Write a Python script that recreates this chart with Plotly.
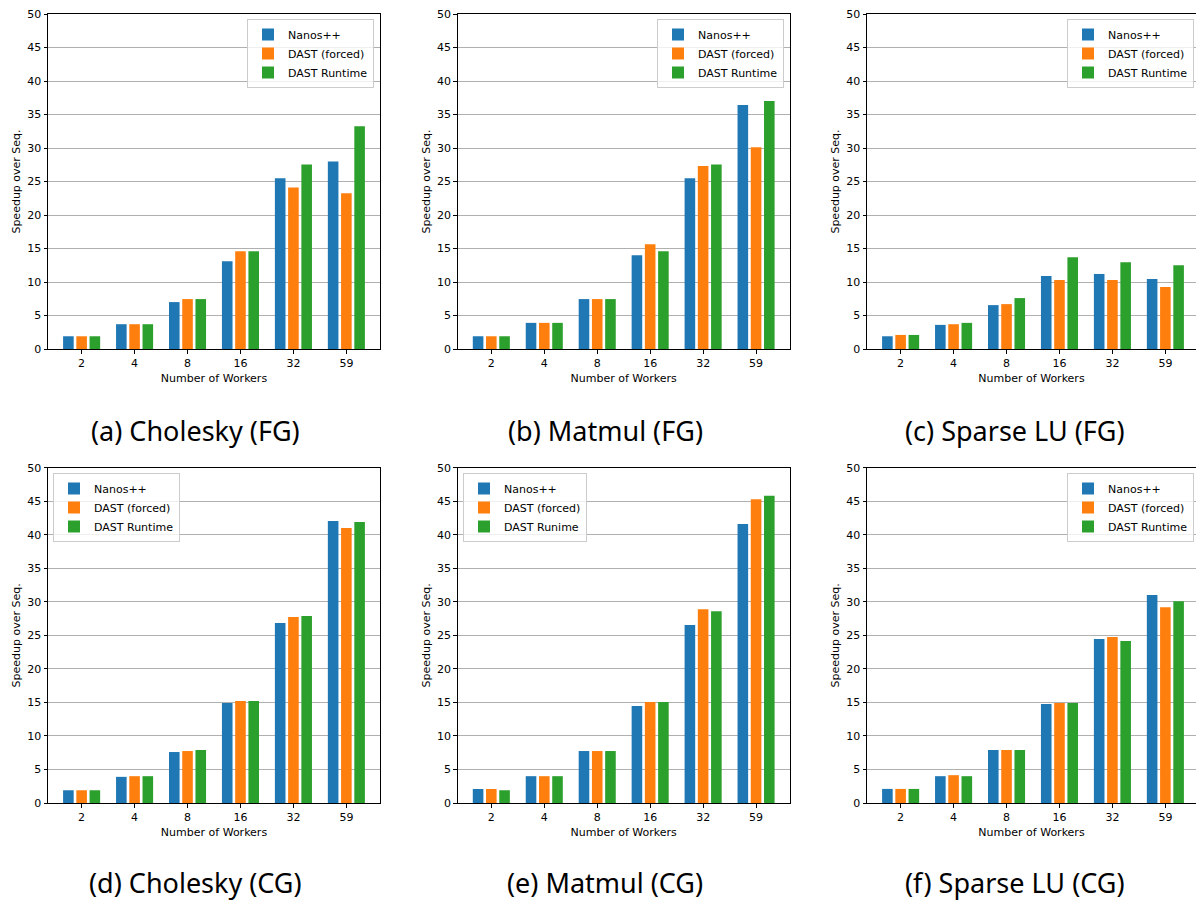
import plotly.graph_objects as go

# Worker counts on the x axis
workers = ["2", "4", "8", "16", "32", "59"]
series_names = ["Nanos++", "DAST (forced)", "DAST Runtime"]
series_names_e = ["Nanos++", "DAST (forced)", "DAST Runime"]
colors = ["#1f77b4", "#ff7f0e", "#2ca02c"]

# (a) Cholesky (FG)
chol_fg_nanos = [1.9, 3.7, 7.0, 13.1, 25.5, 28.0]
chol_fg_forced = [1.9, 3.7, 7.45, 14.6, 24.1, 23.25]
chol_fg_runtime = [1.9, 3.7, 7.45, 14.6, 27.55, 33.25]

# (b) Matmul (FG)
matmul_fg_nanos = [1.9, 3.9, 7.45, 14.0, 25.5, 36.4]
matmul_fg_forced = [1.9, 3.9, 7.45, 15.65, 27.3, 30.1]
matmul_fg_runtime = [1.9, 3.9, 7.45, 14.6, 27.55, 37.0]

# (c) Sparse LU (FG)
slu_fg_nanos = [1.9, 3.6, 6.55, 10.9, 11.2, 10.45]
slu_fg_forced = [2.1, 3.7, 6.7, 10.3, 10.3, 9.25]
slu_fg_runtime = [2.1, 3.9, 7.6, 13.7, 12.95, 12.5]

# (d) Cholesky (CG)
chol_cg_nanos = [1.9, 3.9, 7.6, 14.9, 26.85, 42.05]
chol_cg_forced = [1.9, 4.0, 7.75, 15.2, 27.75, 41.0]
chol_cg_runtime = [1.9, 4.0, 7.9, 15.2, 27.9, 41.9]

# (e) Matmul (CG)
matmul_cg_nanos = [2.1, 4.0, 7.75, 14.45, 26.55, 41.6]
matmul_cg_forced = [2.1, 4.0, 7.75, 15.05, 28.9, 45.3]
matmul_cg_runtime = [1.9, 4.0, 7.75, 15.05, 28.6, 45.8]

# (f) Sparse LU (CG)
slu_cg_nanos = [2.1, 4.0, 7.9, 14.75, 24.45, 31.0]
slu_cg_forced = [2.1, 4.15, 7.9, 14.9, 24.75, 29.2]
slu_cg_runtime = [2.1, 4.0, 7.9, 14.9, 24.15, 30.1]

captions = [
    "(a) Cholesky (FG)", "(b) Matmul (FG)", "(c) Sparse LU (FG)",
    "(d) Cholesky (CG)", "(e) Matmul (CG)", "(f) Sparse LU (CG)",
]

panels = [
    (chol_fg_nanos, chol_fg_forced, chol_fg_runtime),
    (matmul_fg_nanos, matmul_fg_forced, matmul_fg_runtime),
    (slu_fg_nanos, slu_fg_forced, slu_fg_runtime),
    (chol_cg_nanos, chol_cg_forced, chol_cg_runtime),
    (matmul_cg_nanos, matmul_cg_forced, matmul_cg_runtime),
    (slu_cg_nanos, slu_cg_forced, slu_cg_runtime),
]
legend_labels = [series_names, series_names, series_names,
                 series_names, series_names_e, series_names]

W, H = 1196, 900
# pixel boxes of each plot area: (left, right, top, bottom)
col_px = [(48, 380), (457.7, 789.7), (867, 1196)]
row_px = [(14, 349), (467.7, 803)]
# legend anchors in pixels: (x, y, xanchor)
legend_px = [
    (374, 19, "right"), (784, 19, "right"), (1194, 19, "right"),
    (53, 473, "left"), (463, 473, "left"), (1194, 473, "right"),
]
caption_px = [(195, 430), (605, 430), (1015, 430),
              (195, 882), (605, 882), (1015, 882)]

base_font = "DejaVu Sans"
fig = go.Figure()
layout = dict(
    width=W, height=H,
    margin=dict(l=0, r=0, t=0, b=0),
    paper_bgcolor="white", plot_bgcolor="white",
    barmode="group", bargap=0.25, bargroupgap=0.2,
    font=dict(family=base_font, size=11, color="black"),
    annotations=[],
)

for p in range(6):
    r, c = divmod(p, 3)
    sfx = "" if p == 0 else str(p + 1)
    xa, ya = "x" + sfx, "y" + sfx
    leg = "legend" + sfx
    for s in range(3):
        fig.add_trace(go.Bar(
            x=workers, y=panels[p][s], name=legend_labels[p][s],
            marker=dict(color=colors[s], line=dict(width=0)),
            xaxis=xa, yaxis=ya, legend=leg, showlegend=True,
        ))
    l, rt = col_px[c]
    t, b = row_px[r]
    xmax = 5.635 if c < 2 else -0.635 + 6.27 * (rt - l) / 332.0
    layout["xaxis" + sfx] = dict(
        domain=[l / W, rt / W], anchor=ya, type="category",
        range=[-0.635, xmax], showgrid=False, zeroline=False,
        showline=True, linecolor="black", linewidth=1, mirror=True,
        ticks="outside", ticklen=3.5, tickwidth=1, tickcolor="black",
        tickfont=dict(size=11), automargin=False,
        title=dict(text="Number of Workers", font=dict(size=11), standoff=5),
    )
    layout["yaxis" + sfx] = dict(
        domain=[1 - b / H, 1 - t / H], anchor=xa,
        range=[0, 50], tickvals=list(range(0, 55, 5)),
        showgrid=True, gridcolor="#b0b0b0", gridwidth=1, zeroline=False,
        showline=True, linecolor="black", linewidth=1, mirror=True,
        ticks="outside", ticklen=3.5, tickwidth=1, tickcolor="black",
        tickfont=dict(size=11), automargin=False,
        title=dict(text="Speedup over Seq.", font=dict(size=11), standoff=4),
    )
    lx, ly, anc = legend_px[p]
    layout[leg] = dict(
        x=lx / W, y=1 - ly / H, xanchor=anc, yanchor="top",
        xref="paper", yref="paper",
        bgcolor="rgba(255,255,255,0.8)", bordercolor="#cccccc", borderwidth=1,
        font=dict(size=11), itemwidth=30, tracegroupgap=0,
    )
    cx, cy = caption_px[p]
    layout["annotations"].append(dict(
        text=captions[p], x=cx / W, y=1 - cy / H, xref="paper", yref="paper",
        xanchor="center", yanchor="middle", showarrow=False,
        font=dict(family="Noto Sans", size=27, color="black"),
    ))

fig.update_layout(**layout)
fig.write_html("out.html")
